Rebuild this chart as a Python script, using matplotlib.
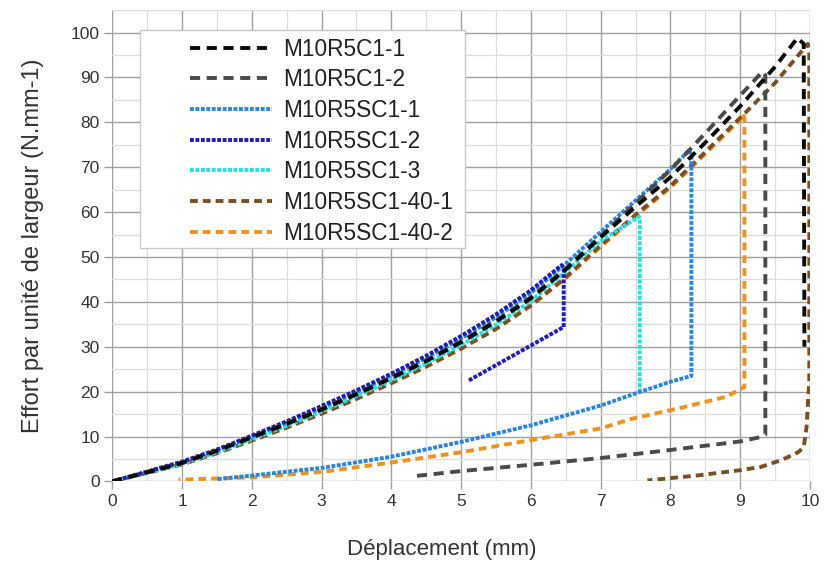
import matplotlib
matplotlib.use("Agg")
import matplotlib.pyplot as plt
from matplotlib.patches import Rectangle
from matplotlib.ticker import MultipleLocator

plt.rcParams['font.family'] = ['Liberation Sans', 'DejaVu Sans']

# courbes effort / deplacement
c1_1_x = [0, 0.5, 1, 1.5, 2, 2.5, 3, 3.5, 4, 4.5, 5, 5.5, 6, 6.5, 7, 7.5, 8, 8.5, 9, 9.5, 9.82, 9.91, 9.92]
c1_1_y = [0, 2.0, 4.1, 6.8, 9.8, 12.8, 16.0, 19.4, 23.0, 26.8, 31.0, 35.6, 40.8, 47.2, 54.4, 61.2, 67.8, 75.5, 83.6, 92.4, 98.8, 97.5, 30.0]

c1_2_x = [0, 0.5, 1, 1.5, 2, 2.5, 3, 3.5, 4, 4.5, 5, 5.5, 6, 6.5, 7, 7.5, 8, 8.5, 9, 9.32, 9.36, 9.36,
          9.3, 9.0, 8.0, 7.0, 6.0, 5.0, 4.35]
c1_2_y = [0, 2.1, 4.2, 6.9, 9.9, 13.0, 16.2, 19.6, 23.2, 27.0, 31.2, 35.8, 41.0, 47.4, 54.6, 62.0, 69.4, 77.6, 86.0, 91.3, 90.5, 10.4,
          9.9, 8.9, 7.0, 5.2, 3.7, 2.3, 1.2]

sc1_1_x = [0, 0.5, 1, 1.5, 2, 2.5, 3, 3.5, 4, 4.5, 5, 5.5, 6, 6.5, 7, 7.5, 8, 8.27, 8.3, 8.3,
           8.0, 7.5, 7.0, 6.0, 5.0, 4.0, 3.0, 2.0, 1.5]
sc1_1_y = [0, 2.1, 4.3, 7.0, 10.0, 13.1, 16.4, 19.9, 23.6, 27.5, 31.8, 36.6, 42.0, 48.5, 55.6, 62.6, 69.6, 73.8, 72.5, 23.5,
           22.2, 19.6, 16.9, 12.5, 8.8, 5.5, 3.0, 1.3, 0.5]

sc1_2_x = [0, 0.5, 1, 1.5, 2, 2.5, 3, 3.5, 4, 4.5, 5, 5.5, 6, 6.44, 6.47, 6.47, 5.1]
sc1_2_y = [0, 2.2, 4.4, 7.1, 10.2, 13.4, 16.8, 20.3, 24.0, 28.0, 32.4, 37.2, 42.6, 48.2, 47.5, 34.4, 22.4]

sc1_3_x = [0, 0.5, 1, 1.5, 2, 2.5, 3, 3.5, 4, 4.5, 5, 5.5, 6, 6.5, 7, 7.5, 7.55, 7.56, 7.56]
sc1_3_y = [0, 1.9, 3.9, 6.5, 9.4, 12.4, 15.6, 19.0, 22.5, 26.3, 30.4, 34.9, 40.2, 46.8, 53.6, 58.5, 59.0, 58.2, 19.5]

sc1_40_1_x = [0, 0.5, 1, 1.5, 2, 2.5, 3, 3.5, 4, 4.5, 5, 5.5, 6, 6.5, 7, 7.5, 8, 8.5, 9, 9.5, 9.97, 9.99, 9.99,
              9.95, 9.91, 9.83, 9.6, 9.29, 9.0, 8.43, 7.67]
sc1_40_1_y = [0, 1.9, 3.8, 6.3, 9.1, 12.0, 15.1, 18.4, 21.9, 25.6, 29.6, 34.0, 39.2, 45.5, 52.6, 59.4, 65.8, 73.4, 81.0, 88.8, 97.5, 96.5, 22.5,
              12.0, 7.6, 6.5, 4.8, 3.2, 2.5, 1.4, 0.2]

sc1_40_2_x = [0, 0.5, 1, 1.5, 2, 2.5, 3, 3.5, 4, 4.5, 5, 5.5, 6, 6.5, 7, 7.5, 8, 8.5, 9, 9.03, 9.06, 9.06,
              9.03, 8.9, 8.81, 8.18, 7.46, 7.0, 6.0, 5.0, 4.0, 3.0, 2.0, 1.0, 0.95]
sc1_40_2_y = [0, 1.9, 3.8, 6.3, 9.1, 12.0, 15.1, 18.4, 21.9, 25.6, 29.6, 34.0, 39.2, 45.3, 52.3, 59.0, 65.5, 73.0, 80.6, 82.0, 81.0, 21.0,
              20.8, 19.7, 18.9, 16.5, 14.0, 11.8, 9.2, 6.5, 4.2, 2.1, 0.9, 0.4, 0.4]

fig = plt.figure(figsize=(8.24, 5.65), dpi=100)
ax = fig.add_axes([0.1363, 0.148, 0.8467, 0.834])

lw = 2.8
ax.plot(sc1_40_2_x, sc1_40_2_y, color='#f0921e', lw=lw, dashes=(2.0, 1.3), label='M10R5SC1-40-2', zorder=3)
ax.plot(sc1_40_1_x, sc1_40_1_y, color='#7d4e22', lw=lw, dashes=(2.0, 1.3), label='M10R5SC1-40-1', zorder=4)
ax.plot(sc1_3_x, sc1_3_y, color='#25e0e6', lw=lw, dashes=(1, 0.4), label='M10R5SC1-3', zorder=5)
ax.plot(sc1_1_x, sc1_1_y, color='#2a86dc', lw=lw, dashes=(1, 0.4), label='M10R5SC1-1', zorder=6)
ax.plot(sc1_2_x, sc1_2_y, color='#1e1eb4', lw=lw, dashes=(1, 0.4), label='M10R5SC1-2', zorder=7)
ax.plot(c1_2_x, c1_2_y, color='#4a4a4a', lw=lw, dashes=(2.6, 1.7), label='M10R5C1-2', zorder=8)
ax.plot(c1_1_x, c1_1_y, color='#0a0a0a', lw=lw, dashes=(2.6, 1.7), label='M10R5C1-1', zorder=9)

ax.set_xlim(0, 10)
ax.set_ylim(0, 105)
ax.xaxis.set_major_locator(MultipleLocator(1))
ax.xaxis.set_minor_locator(MultipleLocator(0.5))
ax.yaxis.set_major_locator(MultipleLocator(10))
ax.yaxis.set_minor_locator(MultipleLocator(5))
ax.set_yticks(range(0, 101, 10))
ax.grid(which='major', color='#a0a0a0', lw=1.0, zorder=0)
ax.grid(which='minor', color='#dedede', lw=0.9, zorder=0)
ax.set_axisbelow(True)
for s in ax.spines.values():
    s.set_visible(False)
ax.tick_params(which='major', length=6, width=1, color='#a0a0a0', labelsize=12.5, labelcolor='#333333', pad=3)
ax.tick_params(which='minor', length=0)

ax.set_xlabel('Déplacement (mm)', fontsize=16, color='#333333', labelpad=22)
ax.xaxis.label.set_x(0.4726)
ax.set_ylabel('Effort par unité de largeur (N.mm-1)', fontsize=17, color='#333333', labelpad=19)

# cadre de la legende
ax.add_patch(Rectangle((0.0397, 0.4952), 0.4658, 0.4624, transform=ax.transAxes,
                       facecolor='white', edgecolor='#c8c8c8', lw=1, zorder=10))
handles, labels = ax.get_legend_handles_labels()
order = ['M10R5C1-1', 'M10R5C1-2', 'M10R5SC1-1', 'M10R5SC1-2', 'M10R5SC1-3', 'M10R5SC1-40-1', 'M10R5SC1-40-2']
hmap = dict(zip(labels, handles))
leg = ax.legend([hmap[k] for k in order], order, loc='upper left', bbox_to_anchor=(0.112, 0.942),
                frameon=False, fontsize=16.3, handlelength=3.6, handletextpad=0.5,
                labelspacing=0.34, borderpad=0, borderaxespad=0)
leg.set_zorder(11)
for t in leg.get_texts():
    t.set_color('#222222')

fig.savefig('out.png', dpi=100)
